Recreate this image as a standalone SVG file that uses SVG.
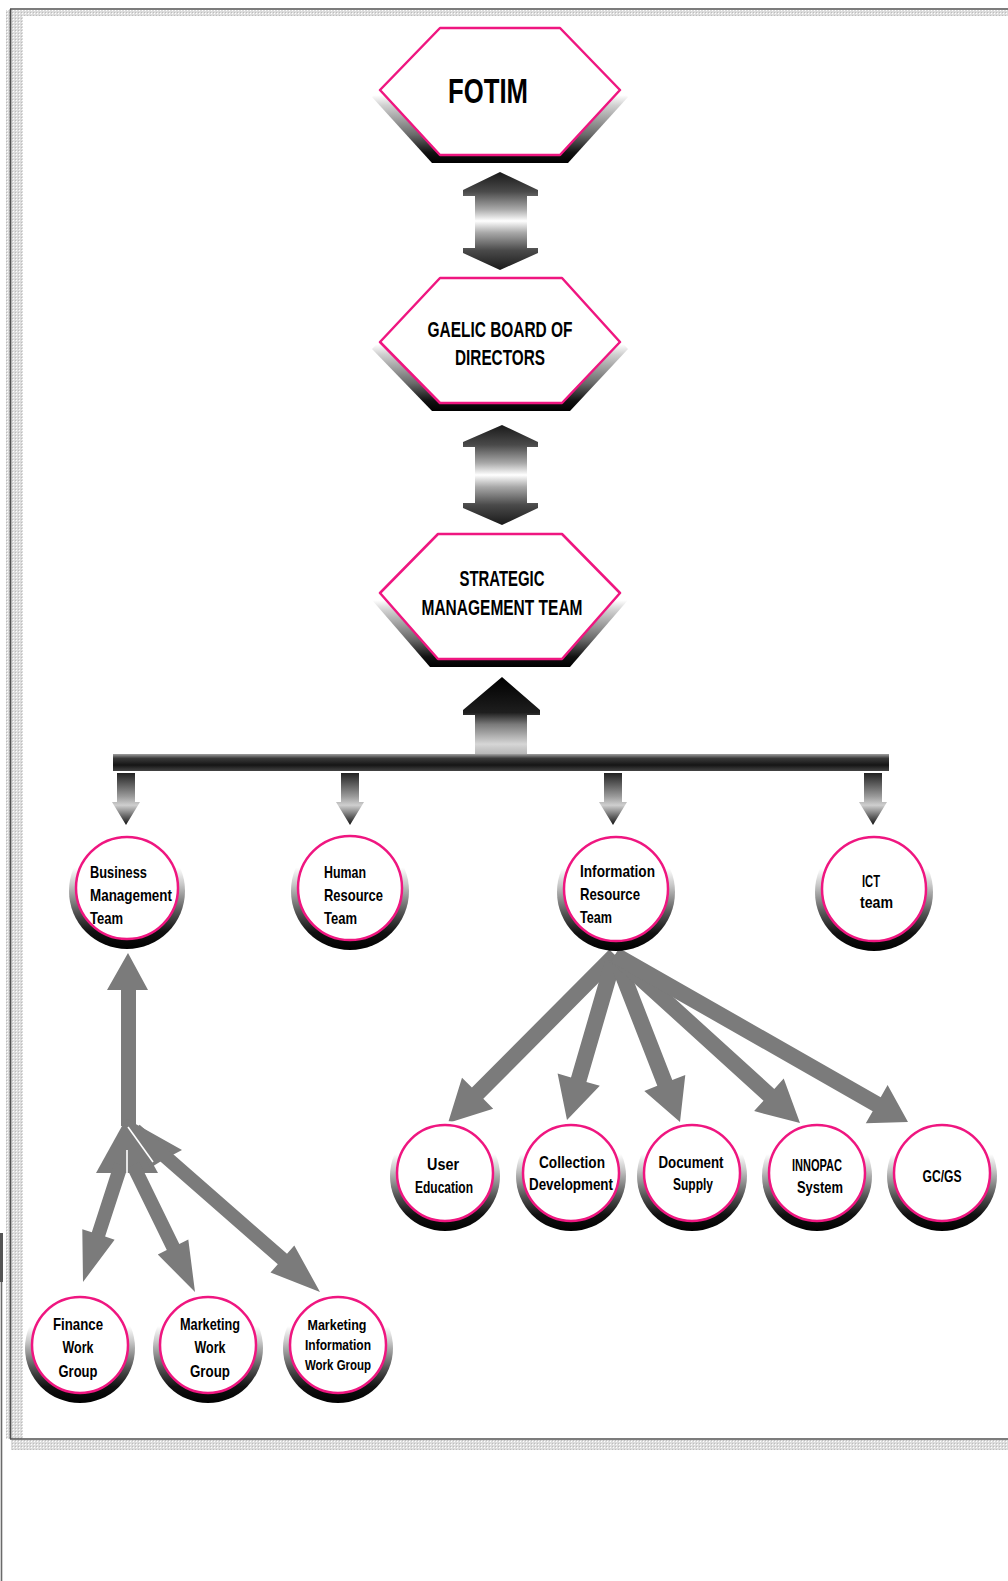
<svg xmlns="http://www.w3.org/2000/svg" width="1008" height="1581" viewBox="0 0 1008 1581">
  <style>
    .hex { fill: #ffffff; stroke: #ef1680; stroke-width: 2.5; stroke-linejoin: round; }
    .hexshade { fill: url(#hexShade); }
    .ring { fill: #ffffff; stroke: #ef1680; stroke-width: 2.5; }
    .ringshade { fill: url(#ringShade); }
    .lbl { font-family: "Liberation Sans Narrow", "Liberation Sans", Arial, sans-serif; font-weight: bold; fill: #000000; }
    .cap { font-size: 22px; text-anchor: middle; }
    .big { font-size: 35px; text-anchor: middle; }
    .sm { font-size: 17px; }
    .mid { text-anchor: middle; }
    .xs { font-size: 15px; text-anchor: middle; }
    .flow { fill: #7b7b7b; }
    .gap { stroke: #ffffff; stroke-width: 1.6; fill: none; }
  </style>
  <defs>
    <pattern id="dots" width="3" height="3" patternUnits="userSpaceOnUse">
      <rect width="3" height="3" fill="#dcdcdc"/>
      <rect x="1" y="1" width="1" height="1" fill="#ffffff"/>
      <rect x="0" y="0" width="1" height="1" fill="#bdbdbd"/>
    </pattern>
    <linearGradient id="hexShade" x1="0" y1="0" x2="0" y2="1">
      <stop offset="0" stop-color="#ffffff"/>
      <stop offset="0.47" stop-color="#ffffff"/>
      <stop offset="0.55" stop-color="#d0d0d0"/>
      <stop offset="0.78" stop-color="#6a6a6a"/>
      <stop offset="0.92" stop-color="#111111"/>
      <stop offset="1" stop-color="#000000"/>
    </linearGradient>
    <linearGradient id="ringShade" x1="0" y1="0" x2="0" y2="1">
      <stop offset="0" stop-color="#ffffff"/>
      <stop offset="0.3" stop-color="#ffffff"/>
      <stop offset="0.45" stop-color="#c4c4c4"/>
      <stop offset="0.68" stop-color="#555555"/>
      <stop offset="0.85" stop-color="#111111"/>
      <stop offset="1" stop-color="#000000"/>
    </linearGradient>
    <linearGradient id="twoWay" x1="0" y1="0" x2="0" y2="1">
      <stop offset="0" stop-color="#1a1a1a"/>
      <stop offset="0.2" stop-color="#4a4a4a"/>
      <stop offset="0.38" stop-color="#a8a8a8"/>
      <stop offset="0.5" stop-color="#ffffff"/>
      <stop offset="0.62" stop-color="#a8a8a8"/>
      <stop offset="0.8" stop-color="#4a4a4a"/>
      <stop offset="1" stop-color="#1a1a1a"/>
    </linearGradient>
    <linearGradient id="upward" x1="0" y1="0" x2="0" y2="1">
      <stop offset="0" stop-color="#000000"/>
      <stop offset="0.45" stop-color="#1e1e1e"/>
      <stop offset="0.6" stop-color="#7a7a7a"/>
      <stop offset="0.85" stop-color="#d6d6d6"/>
      <stop offset="1" stop-color="#b0b0b0"/>
    </linearGradient>
    <linearGradient id="downward" x1="0" y1="0" x2="0" y2="1">
      <stop offset="0" stop-color="#222222"/>
      <stop offset="0.45" stop-color="#9a9a9a"/>
      <stop offset="0.62" stop-color="#cfcfcf"/>
      <stop offset="1" stop-color="#111111"/>
    </linearGradient>
    <linearGradient id="barShade" x1="0" y1="0" x2="0" y2="1">
      <stop offset="0" stop-color="#a0a0a0"/>
      <stop offset="0.25" stop-color="#3a3a3a"/>
      <stop offset="0.65" stop-color="#151515"/>
      <stop offset="1" stop-color="#444444"/>
    </linearGradient>
  </defs>

  <rect width="1008" height="1581" fill="#ffffff"/>

  <!-- page frame -->
  <g id="frame">
    <rect x="11" y="10" width="997" height="6" fill="url(#dots)"/>
    <rect x="6" y="10" width="17" height="1429" fill="url(#dots)"/>
    <rect x="11" y="1440" width="997" height="10" fill="url(#dots)"/>
    <line x1="10" y1="9" x2="1008" y2="9" stroke="#505050" stroke-width="1.6"/>
    <line x1="10.5" y1="9" x2="10.5" y2="1439" stroke="#505050" stroke-width="1.6"/>
    <line x1="10" y1="1439" x2="1008" y2="1439" stroke="#505050" stroke-width="1.6"/>
    <rect x="0" y="1233" width="3" height="49" fill="#555555"/>
    <line x1="1.5" y1="1282" x2="1.5" y2="1581" stroke="#6a6a6a" stroke-width="1.6"/>
  </g>

  <!-- connectors -->
  <g id="connectors">
    <polygon fill="url(#twoWay)" points="500,172 538,190 538,196 527,196 527,248 538,248 538,253 500,270 463,253 463,248 475,248 475,196 463,196 463,190"/>
    <polygon fill="url(#twoWay)" points="502,425 538,442 538,447 527,447 527,503 538,503 538,508 502,525 463,508 463,503 475,503 475,447 463,447 463,442"/>
    <polygon fill="url(#upward)" points="502,677 540,710 540,715 527,715 527,756 475,756 475,715 463,715 463,710"/>
    <rect x="113" y="754" width="776" height="17" fill="url(#barShade)"/>
    <polygon fill="url(#downward)" points="117,773 135,773 135,802 140,802 126,825 112,802 117,802"/>
    <polygon fill="url(#downward)" points="341,773 359,773 359,802 364,802 350,825 336,802 341,802"/>
    <polygon fill="url(#downward)" points="604,773 622,773 622,802 627,802 613,825 599,802 604,802"/>
    <polygon fill="url(#downward)" points="864,773 882,773 882,802 887,802 873,825 859,802 864,802"/>

    <!-- Information Resource Team fan -->
    <polygon class="flow" points="609.3,949.4 471.9,1087.6 462.0,1077.7 448,1123 493.2,1108.7 483.3,1098.8 620.7,960.6"/>
    <polygon class="flow" points="607.3,952.8 571.0,1077.5 557.6,1073.6 567,1120 599.8,1085.8 586.4,1081.9 622.7,957.2"/>
    <polygon class="flow" points="607.5,957.9 657.3,1085.8 644.3,1090.9 680,1122 685.3,1074.9 672.3,1080.0 622.5,952.1"/>
    <polygon class="flow" points="609.6,960.9 763.5,1100.7 754.1,1111.1 800,1123 783.7,1078.5 774.3,1088.9 620.4,949.1"/>
    <polygon class="flow" points="611.0,962.0 872.7,1111.2 865.8,1123.3 908,1122 887.6,1085.1 880.7,1097.2 619.0,948.0"/>

    <!-- Business Management Team work groups -->
    <polygon class="flow" points="121,1126 121,990 107,990 128,953 148,990 136,990 136,1126"/>
    <polygon class="flow" points="127,1117 158,1173 96,1173"/>
    <polygon class="flow" points="125,1118 182,1150 163,1160 150,1168"/>
    <polygon class="flow" points="114.3,1162.8 91.8,1232.3 82.3,1229.2 83,1282 114.6,1239.7 105.1,1236.6 127.7,1167.2"/>
    <polygon class="flow" points="126.7,1168.1 166.8,1250.1 157.8,1254.5 195,1292 188.3,1239.6 179.3,1244.0 139.3,1161.9"/>
    <polygon class="flow" points="130.4,1135.3 277.8,1264.3 270.5,1272.6 320,1292 294.3,1245.5 287.0,1253.8 139.6,1124.8"/>
    <line class="gap" x1="128" y1="1127" x2="153" y2="1162"/>
    <line class="gap" x1="127" y1="1150" x2="127" y2="1174"/>
  </g>

  <!-- hexagon nodes -->
  <g id="fotim">
    <polygon class="hexshade" points="432,35 568,35 628,97 568,163 432,163 372,97"/>
    <polygon class="hex" points="440,28 560,28 620,90 560,155 440,155 380,90"/>
    <text class="lbl big" x="488" y="103" textLength="80" lengthAdjust="spacingAndGlyphs">FOTIM</text>
  </g>
  <g id="gaelic-board">
    <polygon class="hexshade" points="432,285 570,285 628,349 570,411 432,411 372,349"/>
    <polygon class="hex" points="440,278 562,278 620,342 562,403 440,403 380,342"/>
    <text class="lbl cap" x="500" y="337" textLength="145" lengthAdjust="spacingAndGlyphs">GAELIC BOARD OF</text>
    <text class="lbl cap" x="500" y="365" textLength="90" lengthAdjust="spacingAndGlyphs">DIRECTORS</text>
  </g>
  <g id="strategic-team">
    <polygon class="hexshade" points="430,541 570,541 628,600 570,667 430,667 372,600"/>
    <polygon class="hex" points="438,534 562,534 620,593 562,659 438,659 380,593"/>
    <text class="lbl cap" x="502" y="586" textLength="85" lengthAdjust="spacingAndGlyphs">STRATEGIC</text>
    <text class="lbl cap" x="502" y="615" textLength="161" lengthAdjust="spacingAndGlyphs">MANAGEMENT TEAM</text>
  </g>

  <!-- team nodes -->
  <g id="business-management">
    <circle class="ringshade" cx="127" cy="891" r="58"/>
    <circle class="ring" cx="127" cy="888" r="51"/>
    <text class="lbl sm" x="90" y="878" textLength="57" lengthAdjust="spacingAndGlyphs">Business</text>
    <text class="lbl sm" x="90" y="901" textLength="82" lengthAdjust="spacingAndGlyphs">Management</text>
    <text class="lbl sm" x="90" y="924" textLength="33" lengthAdjust="spacingAndGlyphs">Team</text>
  </g>
  <g id="human-resource">
    <circle class="ringshade" cx="350" cy="891" r="59"/>
    <circle class="ring" cx="350" cy="888" r="52"/>
    <text class="lbl sm" x="324" y="878" textLength="42" lengthAdjust="spacingAndGlyphs">Human</text>
    <text class="lbl sm" x="324" y="901" textLength="59" lengthAdjust="spacingAndGlyphs">Resource</text>
    <text class="lbl sm" x="324" y="924" textLength="33" lengthAdjust="spacingAndGlyphs">Team</text>
  </g>
  <g id="information-resource">
    <circle class="ringshade" cx="616" cy="892" r="59"/>
    <circle class="ring" cx="616" cy="889" r="52"/>
    <text class="lbl sm" x="580" y="877" textLength="75" lengthAdjust="spacingAndGlyphs">Information</text>
    <text class="lbl sm" x="580" y="900" textLength="60" lengthAdjust="spacingAndGlyphs">Resource</text>
    <text class="lbl sm" x="580" y="923" textLength="32" lengthAdjust="spacingAndGlyphs" font-weight="normal">Team</text>
  </g>
  <g id="ict-team">
    <circle class="ringshade" cx="874" cy="892" r="59"/>
    <circle class="ring" cx="874" cy="889" r="52"/>
    <text class="lbl sm" x="862" y="887" textLength="18" lengthAdjust="spacingAndGlyphs">ICT</text>
    <text class="lbl sm" x="860" y="908" textLength="33" lengthAdjust="spacingAndGlyphs">team</text>
  </g>

  <!-- information resource units -->
  <g id="user-education">
    <circle class="ringshade" cx="445" cy="1176" r="55"/>
    <circle class="ring" cx="445" cy="1173" r="48"/>
    <text class="lbl sm mid" x="443" y="1170" textLength="32" lengthAdjust="spacingAndGlyphs">User</text>
    <text class="lbl sm mid" x="444" y="1193" textLength="58" lengthAdjust="spacingAndGlyphs">Education</text>
  </g>
  <g id="collection-development">
    <circle class="ringshade" cx="571" cy="1176" r="55"/>
    <circle class="ring" cx="571" cy="1173" r="48"/>
    <text class="lbl sm mid" x="572" y="1168" textLength="66" lengthAdjust="spacingAndGlyphs">Collection</text>
    <text class="lbl sm mid" x="571" y="1190" textLength="84" lengthAdjust="spacingAndGlyphs">Development</text>
  </g>
  <g id="document-supply">
    <circle class="ringshade" cx="692" cy="1176" r="55"/>
    <circle class="ring" cx="692" cy="1173" r="48"/>
    <text class="lbl sm mid" x="691" y="1168" textLength="65" lengthAdjust="spacingAndGlyphs">Document</text>
    <text class="lbl sm mid" x="693" y="1190" textLength="40" lengthAdjust="spacingAndGlyphs">Supply</text>
  </g>
  <g id="innopac-system">
    <circle class="ringshade" cx="817" cy="1176" r="55"/>
    <circle class="ring" cx="817" cy="1173" r="48"/>
    <text class="lbl sm mid" x="817" y="1171" textLength="50" lengthAdjust="spacingAndGlyphs">INNOPAC</text>
    <text class="lbl sm mid" x="820" y="1193" textLength="46" lengthAdjust="spacingAndGlyphs">System</text>
  </g>
  <g id="gc-gs">
    <circle class="ringshade" cx="942" cy="1176" r="55"/>
    <circle class="ring" cx="942" cy="1173" r="48"/>
    <text class="lbl sm mid" x="942" y="1182" textLength="39" lengthAdjust="spacingAndGlyphs">GC/GS</text>
  </g>

  <!-- business management work groups -->
  <g id="finance-work-group">
    <circle class="ringshade" cx="80" cy="1348" r="55"/>
    <circle class="ring" cx="80" cy="1345" r="48"/>
    <text class="lbl sm mid" x="78" y="1330" textLength="50" lengthAdjust="spacingAndGlyphs">Finance</text>
    <text class="lbl sm mid" x="78" y="1353" textLength="31" lengthAdjust="spacingAndGlyphs">Work</text>
    <text class="lbl sm mid" x="78" y="1377" textLength="39" lengthAdjust="spacingAndGlyphs">Group</text>
  </g>
  <g id="marketing-work-group">
    <circle class="ringshade" cx="208" cy="1348" r="55"/>
    <circle class="ring" cx="208" cy="1345" r="48"/>
    <text class="lbl sm mid" x="210" y="1330" textLength="60" lengthAdjust="spacingAndGlyphs">Marketing</text>
    <text class="lbl sm mid" x="210" y="1353" textLength="31" lengthAdjust="spacingAndGlyphs">Work</text>
    <text class="lbl sm mid" x="210" y="1377" textLength="40" lengthAdjust="spacingAndGlyphs">Group</text>
  </g>
  <g id="marketing-information-work-group">
    <circle class="ringshade" cx="338" cy="1348" r="55"/>
    <circle class="ring" cx="338" cy="1345" r="48"/>
    <text class="lbl xs" x="337" y="1330" textLength="59" lengthAdjust="spacingAndGlyphs">Marketing</text>
    <text class="lbl xs" x="338" y="1350" textLength="66" lengthAdjust="spacingAndGlyphs">Information</text>
    <text class="lbl xs" x="338" y="1370" textLength="66" lengthAdjust="spacingAndGlyphs">Work Group</text>
  </g>
</svg>
